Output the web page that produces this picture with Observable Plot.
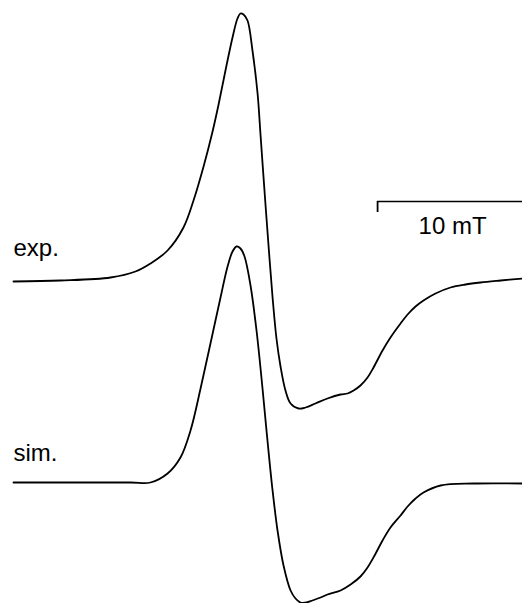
<!DOCTYPE html>
<html>
<head>
<meta charset="utf-8">
<script src="https://cdn.jsdelivr.net/npm/d3@7"></script>
<script src="https://cdn.jsdelivr.net/npm/@observablehq/plot@0.6"></script>
<style>
  html, body { margin: 0; padding: 0; background: #fff; }
  #chart { width: 522px; height: 603px; overflow: hidden; }
</style>
</head>
<body>
<div id="chart"></div>
<script>
// Magnetic field (mT, relative) and EPR derivative intensity (a.u.)
const expField = [0, 3.13, 6.47, 8.13, 9.13, 10.27, 11.33, 12.0, 12.67, 13.27, 13.67, 14.13, 14.6, 14.93, 15.13, 15.33, 15.6, 15.93, 16.27, 16.47, 16.73, 17.0, 17.27, 17.53, 17.8, 18.13, 18.47, 19.0, 19.47, 20.13, 20.93, 21.8, 22.27, 22.67, 23.13, 23.6, 24.0, 24.6, 25.13, 25.8, 26.27, 26.8, 27.33, 28.13, 29.13, 30.13, 31.13, 32.47, 33.93];
const expSignal = [0, 0.01, 0.04, 0.10, 0.18, 0.31, 0.54, 0.81, 1.15, 1.50, 1.77, 2.11, 2.44, 2.63, 2.68, 2.67, 2.61, 2.31, 1.88, 1.46, 0.91, 0.36, -0.16, -0.57, -0.85, -1.09, -1.22, -1.27, -1.26, -1.22, -1.17, -1.13, -1.12, -1.09, -1.04, -0.96, -0.86, -0.69, -0.56, -0.42, -0.33, -0.25, -0.19, -0.12, -0.06, -0.03, -0.01, 0.01, 0.03];

const simField = [0, 7.8, 9.13, 10.27, 11.13, 11.8, 12.47, 13.13, 13.8, 14.27, 14.6, 14.87, 15.13, 15.4, 15.8, 16.2, 16.6, 16.93, 17.27, 17.6, 18.0, 18.47, 18.8, 19.13, 19.53, 19.93, 20.47, 20.93, 21.8, 22.47, 23.13, 23.6, 24.07, 24.6, 25.13, 25.8, 26.27, 26.8, 27.33, 28.47, 30.67, 33.93];
const simSignal = [0, 0, 0, 0.09, 0.25, 0.52, 0.94, 1.39, 1.85, 2.16, 2.31, 2.36, 2.34, 2.26, 1.97, 1.52, 0.94, 0.42, -0.08, -0.48, -0.83, -1.08, -1.16, -1.20, -1.20, -1.18, -1.15, -1.12, -1.08, -1.02, -0.94, -0.85, -0.73, -0.58, -0.45, -0.33, -0.24, -0.16, -0.10, -0.03, -0.01, -0.01];

const traceNames = ["exp.", "sim."];
const traceOffsets = [0, -2.01];
const labelOffsets = [0.26, 0.22];

const scaleBarStart = 24.27;   // mT
const scaleBarLength = 10;     // mT
const scaleBarLabel = "10 mT";
const scaleBarLevel = 0.80;
const scaleBarTick = 0.11;

const expData = expField.map((b, i) => ({b, v: expSignal[i] + traceOffsets[0]}));
const simData = simField.map((b, i) => ({b, v: simSignal[i] + traceOffsets[1]}));
const labels = traceNames.map((n, i) => ({name: n, b: 0, v: traceOffsets[i] + labelOffsets[i]}));

const font = "'Liberation Sans', Arial, Helvetica, sans-serif";

const chart = Plot.plot({
  width: 522,
  height: 603,
  marginLeft: 13,
  marginRight: 0,
  marginTop: 0,
  marginBottom: 0,
  style: {background: "#fff", fontFamily: font},
  x: {domain: [0, 33.93], axis: null},
  y: {domain: [-3.22, 2.81], axis: null},
  marks: [
    Plot.line(expData, {x: "b", y: "v", curve: "catmull-rom", stroke: "#000", strokeWidth: 1.8}),
    Plot.line(simData, {x: "b", y: "v", curve: "catmull-rom", stroke: "#000", strokeWidth: 1.8}),
    Plot.text(labels, {x: "b", y: "v", text: "name", textAnchor: "start", lineAnchor: "bottom", fontSize: 24, fill: "#000"}),
    Plot.ruleY([scaleBarLevel], {x1: scaleBarStart, x2: scaleBarStart + scaleBarLength + 2, stroke: "#000", strokeWidth: 1.6}),
    Plot.ruleX([scaleBarStart], {y1: scaleBarLevel, y2: scaleBarLevel - scaleBarTick, stroke: "#000", strokeWidth: 1.8}),
    Plot.text([scaleBarLabel], {x: scaleBarStart + scaleBarLength / 2, y: scaleBarLevel - 0.32, text: d => d, textAnchor: "middle", lineAnchor: "bottom", fontSize: 24, fill: "#000"})
  ]
});
document.getElementById("chart").appendChild(chart);
</script>
</body>
</html>
